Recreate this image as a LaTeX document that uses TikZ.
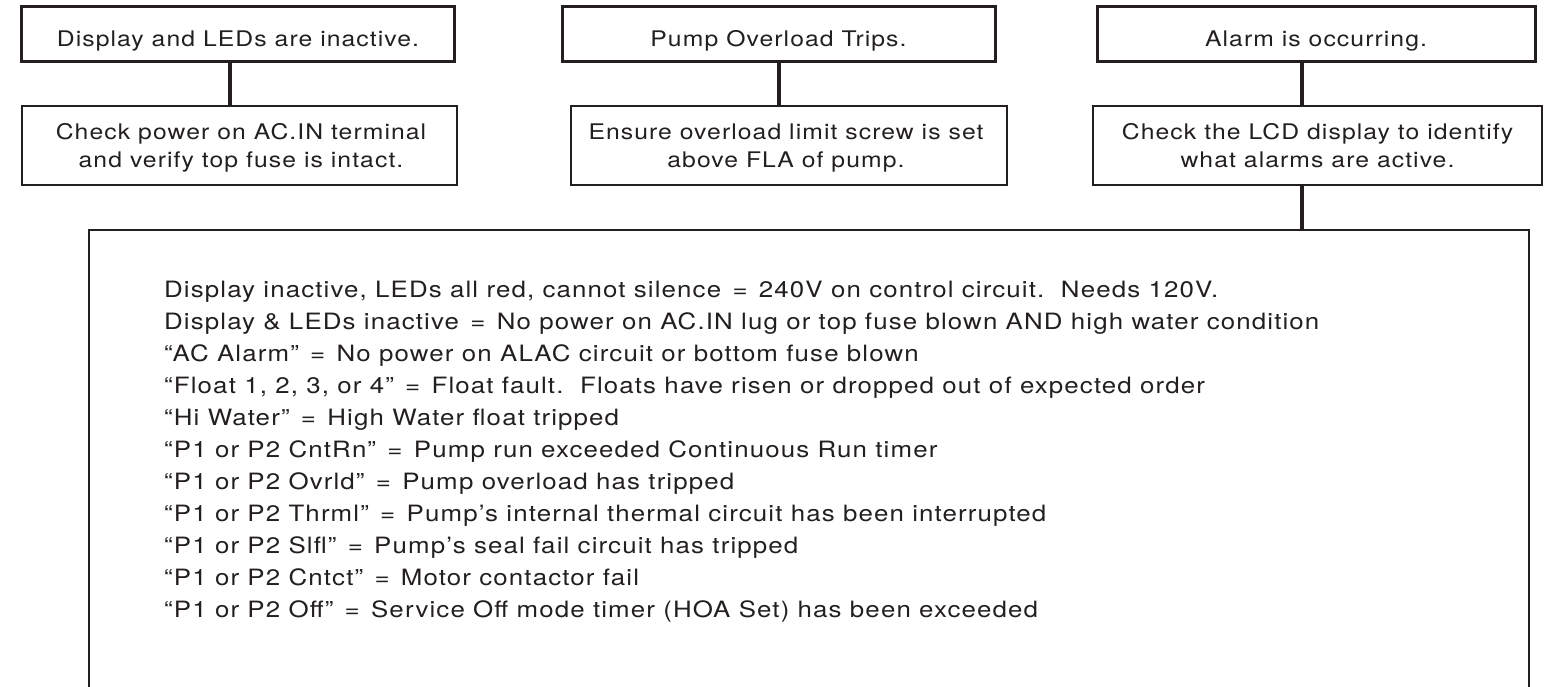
\documentclass[tikz,border=0pt]{standalone}
\usepackage{fontspec}
\setmainfont[FakeStretch=1.15,LetterSpace=5]{TeX Gyre Heros}
\definecolor{ink}{HTML}{231F20}
\newcommand{\myeq}{\ \hspace{3pt}=\hspace{3pt}\ }
\begin{document}
\begin{tikzpicture}[x=1pt,y=-1pt,
  topbox/.style={draw=ink,line width=3pt,inner sep=0pt,rectangle},
  stepbox/.style={draw=ink,line width=2pt,inner sep=0pt,rectangle},
  link/.style={draw=ink,line width=3.5pt},
  frame/.style={draw=ink,line width=2.8pt},
  txt/.style={text=ink,font=\fontsize{21.5}{28}\selectfont,inner sep=0pt,anchor=base},
  body/.style={text=ink,font=\fontsize{22.5}{32}\selectfont,inner sep=0pt,anchor=base west}]
\useasboundingbox (0,0) rectangle (1545,687);
% top boxes
\node[topbox,minimum width=433pt,minimum height=55pt] (t1) at (237.5,34.5) {};
\node[topbox,minimum width=433pt,minimum height=55pt] (t2) at (778.5,34.5) {};
\node[topbox,minimum width=438pt,minimum height=55pt] (t3) at (1316,34.5) {};
% step boxes
\node[stepbox,minimum width=435pt,minimum height=79pt] (b1) at (239.5,145.5) {};
\node[stepbox,minimum width=436pt,minimum height=79pt] (b2) at (789,145.5) {};
\node[stepbox,minimum width=449pt,minimum height=79pt] (b3) at (1317.5,145.5) {};
% texts
\node[txt] (t1a) at (238,47) {Display and LEDs are inactive.};
\node[txt] (t2a) at (778.5,47) {Pump Overload Trips.};
\node[txt] (t3a) at (1316,47) {Alarm is occurring.};
\node[txt] (b1a) at (241,140) {Check power on AC.IN terminal};
\node[txt] (b1b) at (241,168) {and verify top fuse is intact.};
\node[txt] (b2a) at (786,140) {Ensure overload limit screw is set};
\node[txt] (b2b) at (786,168) {above FLA of pump.};
\node[txt] (b3a) at (1317.5,140) {Check the LCD display to identify};
\node[txt] (b3b) at (1317.5,168) {what alarms are active.};
% connectors
\coordinate (c1) at (230,0);
\coordinate (c2) at (779,0);
\coordinate (bigtop) at (1302,230);
\draw[link] (t1.south -| c1) -- (b1.north -| c1);
\draw[link] (t2.south -| c2) -- (b2.north -| c2);
\draw[link] (t3.south -| bigtop) -- (b3.north -| bigtop);
\draw[link] (b3.south -| bigtop) -- (bigtop);
% big frame (open at the bottom edge of the picture)
\coordinate (fl) at (89,230);
\coordinate (fr) at (1529,230);
\draw[frame] (89,695) -- (fl) -- (fr) -- (1529,695);
% body lines
\node[body] (l1) at (164,297) {Display inactive, LEDs all red, cannot silence\myeq 240V on control circuit.\ \ Needs 120V.};
\node[body] (l2) at (164,329) {Display \& LEDs inactive\myeq No power on AC.IN lug or top fuse blown AND high water condition};
\node[body] (l3) at (164,361) {“AC Alarm”\myeq No power on ALAC circuit or bottom fuse blown};
\node[body] (l4) at (164,393) {“Float 1, 2, 3, or 4”\myeq Float fault.\ \ Floats have risen or dropped out of expected order};
\node[body] (l5) at (164,425) {“Hi Water”\myeq High Water float tripped};
\node[body] (l6) at (164,457) {“P1 or P2 CntRn”\myeq Pump run exceeded Continuous Run timer};
\node[body] (l7) at (164,489) {“P1 or P2 Ovrld”\myeq Pump overload has tripped};
\node[body] (l8) at (164,521) {“P1 or P2 Thrml”\myeq Pump’s internal thermal circuit has been interrupted};
\node[body] (l9) at (164,553) {“P1 or P2 Slfl”\myeq Pump’s seal fail circuit has tripped};
\node[body] (l10) at (164,585) {“P1 or P2 Cntct”\myeq Motor contactor fail};
\node[body] (l11) at (164,617) {“P1 or P2 Off”\myeq Service Off mode timer (HOA Set) has been exceeded};
\end{tikzpicture}
\end{document}
